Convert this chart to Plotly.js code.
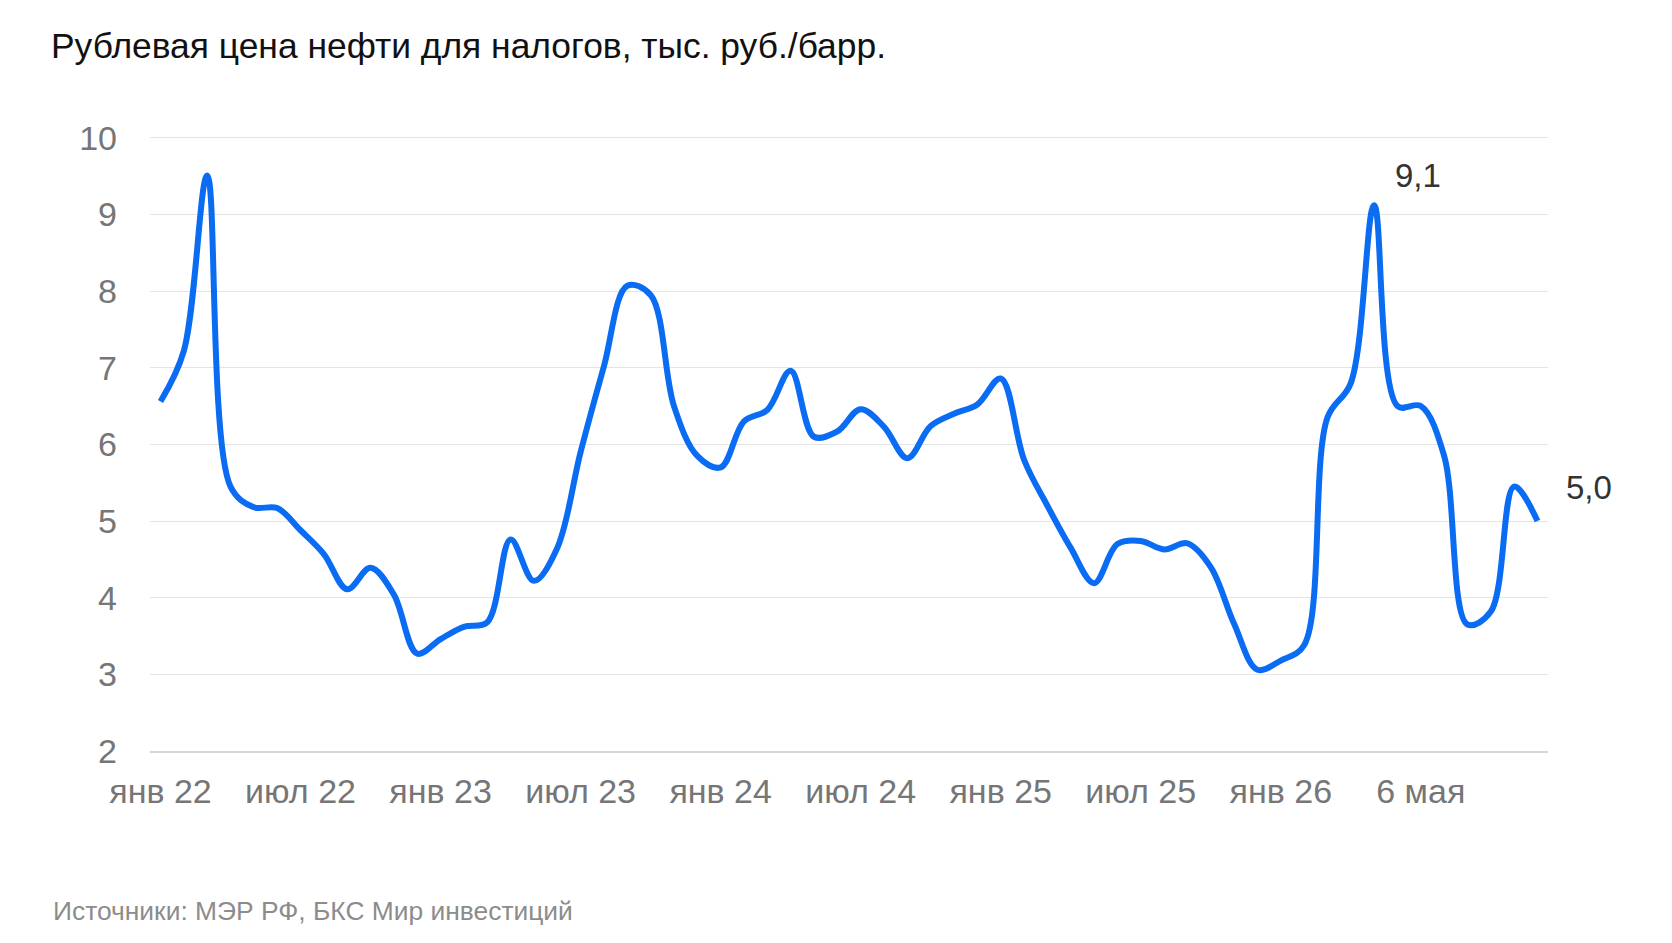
<!DOCTYPE html>
<html>
<head>
<meta charset="utf-8">
<script src="https://cdn.plot.ly/plotly-3.0.1.min.js"></script>
<style>
  html, body { margin: 0; padding: 0; background: #fff; }
  #chart { width: 1672px; height: 943px; }
</style>
</head>
<body>
<div id="chart"></div>
<script>
  // months on the x axis (one point per month)
  const months = [
    'янв 22', 'фев 22', 'мар 22', 'апр 22', 'май 22', 'июн 22', 'июл 22', 'авг 22', 'сен 22', 'окт 22', 'ноя 22', 'дек 22',
    'янв 23', 'фев 23', 'мар 23', 'апр 23', 'май 23', 'июн 23', 'июл 23', 'авг 23', 'сен 23', 'окт 23', 'ноя 23', 'дек 23',
    'янв 24', 'фев 24', 'мар 24', 'апр 24', 'май 24', 'июн 24', 'июл 24', 'авг 24', 'сен 24', 'окт 24', 'ноя 24', 'дек 24',
    'янв 25', 'фев 25', 'мар 25', 'апр 25', 'май 25', 'июн 25', 'июл 25', 'авг 25', 'сен 25', 'окт 25', 'ноя 25', 'дек 25',
    'янв 26', 'фев 26', 'мар 26', 'апр 26', 'май 26', 'июн 26', 'июл 26', 'авг 26', 'сен 26', 'окт 26', 'ноя 26', 'дек 26'
  ];

  // рублевая цена, тыс. руб./барр.
  const price = [
    6.56, 7.22, 9.51, 5.45, 5.18, 5.17, 4.88, 4.57, 4.11, 4.39, 4.04, 3.27,
    3.46, 3.62, 3.68, 4.76, 4.22, 4.65, 5.90, 7.02, 8.07, 7.95, 6.50, 5.85,
    5.70, 6.30, 6.45, 6.96, 6.10, 6.17, 6.46, 6.23, 5.82, 6.24, 6.40, 6.52,
    6.86, 5.80, 5.20, 4.65, 4.19, 4.70, 4.74, 4.63, 4.71, 4.40, 3.66, 3.06,
    3.18, 3.38, 6.35, 6.80, 9.12, 6.50, 6.50, 5.85, 3.65, 3.82, 5.45, 5.00
  ];

  const tickMonths = ['янв 22', 'июл 22', 'янв 23', 'июл 23', 'янв 24', 'июл 24', 'янв 25', 'июл 25', 'янв 26', 'июл 26'];
  const tickLabels = ['янв 22', 'июл 22', 'янв 23', 'июл 23', 'янв 24', 'июл 24', 'янв 25', 'июл 25', 'янв 26', '6 мая'];

  const callouts = [
    { month: 'май 26', value: 9.12, text: '9,1', dx: 44, dy: 30 },
    { month: 'дек 26', value: 5.0, text: '5,0', dx: 51, dy: 34 }
  ];

  const font = 'Liberation Sans, Arial, sans-serif';

  const trace = {
    x: months,
    y: price,
    type: 'scatter',
    mode: 'lines',
    line: { color: '#0a6cf3', width: 6, shape: 'spline', smoothing: 1 },
    hoverinfo: 'skip'
  };

  const annotations = callouts.map((c) => ({
    x: c.month, y: c.value, xref: 'x', yref: 'y',
    text: c.text, showarrow: false,
    xshift: c.dx, yshift: c.dy,
    font: { family: font, size: 33, color: '#333333' }
  }));
  annotations.push({
    xref: 'paper', yref: 'paper', x: -0.0706, y: -0.2593,
    xanchor: 'left', yanchor: 'middle', showarrow: false,
    text: 'Источники: МЭР РФ, БКС Мир инвестиций',
    font: { family: font, size: 26.4, color: '#8c8c8c' }
  });

  const layout = {
    width: 1672,
    height: 943,
    margin: { l: 150, r: 124, t: 134, b: 192 },
    paper_bgcolor: '#ffffff',
    plot_bgcolor: '#ffffff',
    showlegend: false,
    title: {
      text: 'Рублевая цена нефти для налогов, тыс. руб./барр.',
      xref: 'container', yref: 'container',
      x: 51 / 1672, xanchor: 'left',
      y: 1 - 46 / 943, yanchor: 'middle',
      font: { family: font, size: 35.4, color: '#111111' }
    },
    xaxis: {
      type: 'category',
      range: [-0.45, 59.45],
      tickvals: tickMonths,
      ticktext: tickLabels,
      showgrid: false,
      zeroline: false,
      showline: true,
      linecolor: '#d6d6d6',
      linewidth: 2,
      ticks: '',
      ticklabelstandoff: 9,
      tickfont: { family: font, size: 34, color: '#767676' }
    },
    yaxis: {
      range: [2, 10.05],
      tickvals: [2, 3, 4, 5, 6, 7, 8, 9, 10],
      showgrid: true,
      gridcolor: '#e4e4e4',
      gridwidth: 1,
      zeroline: false,
      showline: false,
      ticks: '',
      ticklabelstandoff: 32,
      tickfont: { family: font, size: 34, color: '#767676' }
    },
    annotations
  };

  Plotly.newPlot('chart', [trace], layout, { displayModeBar: false, staticPlot: true });
</script>
</body>
</html>
